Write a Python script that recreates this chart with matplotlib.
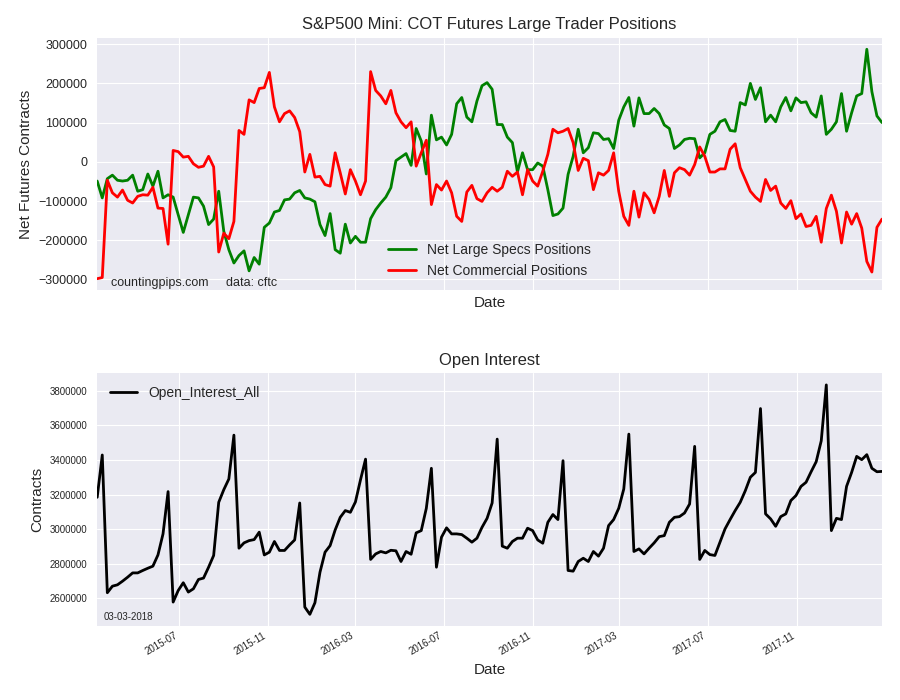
import pandas as pd
import matplotlib
matplotlib.use("Agg")
import matplotlib.pyplot as plt
import matplotlib.dates as mdates
from matplotlib.ticker import ScalarFormatter

plt.style.use("seaborn-v0_8-darkgrid")
plt.rcParams["font.family"] = ["Liberation Sans", "DejaVu Sans"]

# weekly COT report dates (Tuesdays)
dates = pd.date_range("2015-03-10", periods=156, freq="7D")

net_large_specs = [
    -49000, -92000, -43000, -34000, -47000, -49000, -47000, -34000, -75000, -71000,
    -31000, -62000, -24000, -92000, -84000, -90000, -135000, -180000, -135000, -90000,
    -92000, -113000, -160000, -146000, -75000, -177000, -224000, -258000, -239000, -227000,
    -278000, -244000, -261000, -167000, -156000, -128000, -124000, -97000, -95000, -79000,
    -73000, -92000, -95000, -102000, -160000, -188000, -132000, -224000, -233000, -159000,
    -207000, -190000, -205000,
    -205000, -145000, -122000, -105000, -90000, -66000, 3000, 12000, 21000, -9000,
    85000, 53000, -31000, 119000, 56000, 63000, 43000, 70000, 148000, 164000,
    114000, 102000, 155000, 194000, 202000, 185000, 95000, 95000, 63000, 49000,
    -26000, 23000, -20000, -20000, -3000, -11000, -71000, -137000, -133000, -118000,
    -32000, 14000, 83000, 23000, 36000, 74000, 72000, 57000, 59000, 34000,
    106000,
    140000, 164000, 91000, 163000, 123000, 123000, 136000, 123000, 94000, 85000,
    34000, 43000, 57000, 60000, 59000, 10000, 23000, 70000, 78000, 102000,
    108000, 80000, 78000, 151000, 145000, 200000, 159000, 189000, 102000, 119000,
    102000, 140000, 164000, 130000, 163000, 151000, 153000, 125000, 114000, 168000,
    70000, 83000, 102000, 174000, 78000, 125000, 168000, 174000, 287000, 179000,
    117000, 100000,
]

net_commercial = [
    -298000, -295000, -47000, -79000, -90000, -72000, -98000, -105000, -88000, -84000,
    -85000, -65000, -118000, -119000, -210000, 29000, 26000, 12000, 14000, -5000,
    -14000, -11000, 14000, -13000, -230000, -182000, -196000, -152000, 80000, 70000,
    158000, 151000, 187000, 189000, 228000, 140000, 102000, 123000, 130000, 113000,
    77000, -26000, 19000, -39000, -37000, -58000, -62000, 23000, -28000, -82000,
    -20000, -49000, -84000,
    -49000, 230000, 182000, 168000, 148000, 182000, 125000, 102000, 87000, 102000,
    -11000, 23000, 55000, -109000, -58000, -72000, -49000, -79000, -139000, -152000,
    -77000, -60000, -94000, -101000, -79000, -65000, -75000, -65000, -24000, -37000,
    -26000, -84000, -20000, -49000, -62000, -24000, 19000, 83000, 74000, 78000,
    85000, 49000, -22000, 9000, 3000, -71000, -28000, -34000, -22000, 23000,
    -75000,
    -139000, -162000, -75000, -141000, -79000, -96000, -130000, -88000, -22000, -88000,
    -28000, -15000, -20000, -34000, -7000, 38000, 14000, -26000, -26000, -18000,
    -18000, 32000, 46000, -15000, -45000, -75000, -90000, -101000, -45000, -73000,
    -62000, -105000, -119000, -99000, -145000, -133000, -165000, -162000, -139000, -205000,
    -119000, -85000, -126000, -207000, -128000, -159000, -132000, -169000, -254000, -281000,
    -167000, -146000,
]

open_interest = [
    3184000, 3429000, 2631000, 2669000, 2677000, 2698000, 2721000, 2746000, 2746000, 2760000,
    2773000, 2785000, 2850000, 2972000, 3217000, 2577000, 2644000, 2689000, 2635000, 2654000,
    2708000, 2716000, 2779000, 2847000, 3155000, 3228000, 3290000, 3544000, 2889000, 2920000,
    2933000, 2939000, 2982000, 2850000, 2866000, 2928000, 2876000, 2876000, 2908000, 2937000,
    3151000, 2548000, 2506000, 2573000, 2750000, 2866000, 2904000, 2995000, 3068000, 3107000,
    3097000, 3157000, 3285000,
    3405000, 2824000, 2856000, 2870000, 2862000, 2877000, 2874000, 2812000, 2870000, 2854000,
    2978000, 2991000, 3120000, 3352000, 2779000, 2953000, 3007000, 2972000, 2972000, 2968000,
    2947000, 2924000, 2947000, 3010000, 3062000, 3151000, 3521000, 2901000, 2889000, 2928000,
    2947000, 2947000, 3005000, 2991000, 2937000, 2918000, 3039000, 3084000, 3055000, 3396000,
    2760000, 2756000, 2812000, 2831000, 2812000, 2870000, 2843000, 2889000, 3020000, 3055000,
    3120000,
    3232000, 3550000, 2870000, 2885000, 2856000, 2889000, 2920000, 2956000, 2962000, 3039000,
    3068000, 3072000, 3093000, 3145000, 3479000, 2824000, 2876000, 2852000, 2847000, 2924000,
    3001000, 3055000, 3107000, 3155000, 3222000, 3300000, 3328000, 3698000, 3088000, 3059000,
    3016000, 3072000, 3088000, 3165000, 3194000, 3247000, 3271000, 3332000, 3390000, 3511000,
    3835000, 2991000, 3062000, 3055000, 3247000, 3328000, 3421000, 3402000, 3431000, 3352000,
    3332000, 3334000,
]

fig, (ax1, ax2) = plt.subplots(2, 1, sharex=True, figsize=(9, 7), dpi=100)
fig.subplots_adjust(left=0.108, right=0.98, top=0.946, bottom=0.106, hspace=0.33)

ax1.plot(dates, net_large_specs, color="green", lw=2, label="Net Large Specs Positions")
ax1.plot(dates, net_commercial, color="red", lw=2, label="Net Commercial Positions")
ax1.set_title("S&P500 Mini: COT Futures Large Trader Positions", fontsize=12)
ax1.set_ylabel("Net Futures Contracts", fontsize=11)
ax1.set_xlabel("Date", fontsize=11)
ax1.tick_params(axis="y", labelsize=9, pad=7)
ax1.legend(loc="lower center", fontsize=10)
ax1.text(0.018, 0.03, "countingpips.com     data: cftc", transform=ax1.transAxes,
         fontsize=9, va="center")

ax2.plot(dates, open_interest, color="black", lw=2, label="Open_Interest_All")
ax2.set_title("Open Interest", fontsize=12)
ax2.set_ylabel("Contracts", fontsize=11)
ax2.set_xlabel("Date", fontsize=11)
ax2.tick_params(axis="both", labelsize=7)
ax2.tick_params(axis="y", pad=7)
ax2.legend(loc="upper left", fontsize=10)
ax2.text(0.008, 0.035, "03-03-2018", transform=ax2.transAxes, fontsize=7, va="center")

fmt = ScalarFormatter(useOffset=False)
fmt.set_scientific(False)
ax2.yaxis.set_major_formatter(fmt)

ax2.set_xlim(dates[0], dates[-1])
ax2.xaxis.set_major_locator(mdates.MonthLocator(bymonth=[3, 7, 11]))
ax2.xaxis.set_major_formatter(mdates.DateFormatter("%Y-%m"))
ax1.tick_params(axis="x", labelbottom=False)
for lbl in ax2.get_xticklabels():
    lbl.set_rotation(30)
    lbl.set_ha("right")

fig.savefig("out.png", dpi=100)
